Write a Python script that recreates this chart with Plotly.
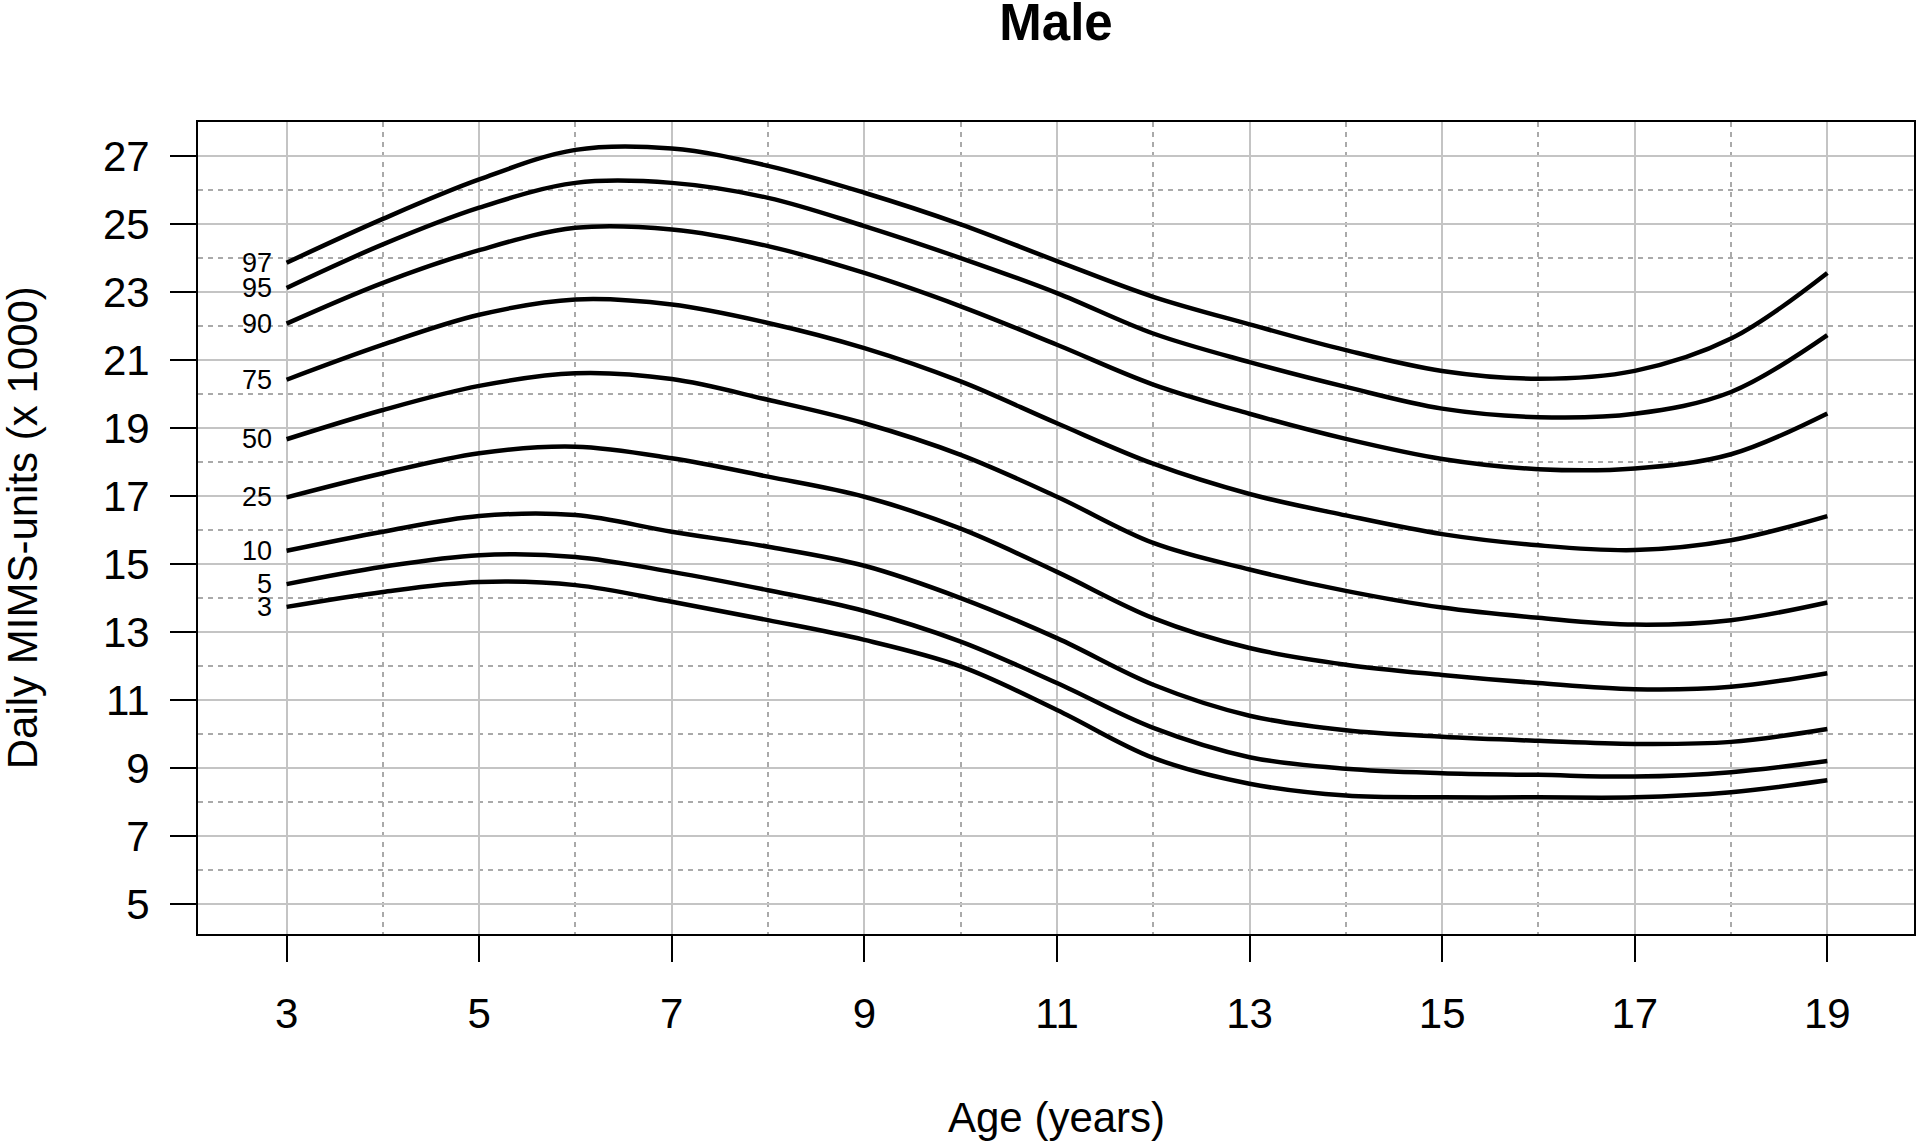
import plotly.graph_objects as go

# ---- data ----
ages = [3, 4, 5, 6, 7, 8, 9, 10, 11, 12, 13, 14, 15, 16, 17, 18, 19]
percentiles = ["97", "95", "90", "75", "50", "25", "10", "5", "3"]

p97 = [23.86, 25.15, 26.31, 27.18, 27.22, 26.71, 25.92, 24.99, 23.91, 22.86, 22.05, 21.29, 20.68, 20.45, 20.68, 21.63, 23.56]
p95 = [23.12, 24.40, 25.48, 26.21, 26.21, 25.77, 24.94, 24.00, 22.97, 21.78, 20.94, 20.21, 19.57, 19.32, 19.42, 20.06, 21.73]
p90 = [22.07, 23.27, 24.23, 24.89, 24.84, 24.35, 23.56, 22.58, 21.45, 20.28, 19.42, 18.68, 18.09, 17.79, 17.81, 18.23, 19.43]
p75 = [20.42, 21.45, 22.33, 22.78, 22.63, 22.09, 21.35, 20.37, 19.14, 17.95, 17.06, 16.43, 15.88, 15.55, 15.41, 15.70, 16.41]
p50 = [18.67, 19.53, 20.24, 20.61, 20.44, 19.83, 19.14, 18.21, 16.98, 15.62, 14.84, 14.21, 13.72, 13.42, 13.22, 13.35, 13.87]
p25 = [16.96, 17.67, 18.26, 18.45, 18.11, 17.57, 16.98, 16.04, 14.77, 13.41, 12.53, 12.04, 11.74, 11.50, 11.32, 11.39, 11.79]
p10 = [15.39, 15.95, 16.41, 16.44, 15.95, 15.51, 14.95, 14.00, 12.82, 11.45, 10.54, 10.11, 9.92, 9.80, 9.71, 9.77, 10.15]
p05 = [14.41, 14.92, 15.26, 15.21, 14.77, 14.23, 13.62, 12.72, 11.50, 10.18, 9.32, 8.98, 8.85, 8.80, 8.75, 8.88, 9.21]
p03 = [13.74, 14.18, 14.47, 14.38, 13.89, 13.35, 12.77, 11.99, 10.71, 9.30, 8.54, 8.19, 8.14, 8.14, 8.14, 8.29, 8.64]

series = [p97, p95, p90, p75, p50, p25, p10, p05, p03]

x_ticks = [3, 5, 7, 9, 11, 13, 15, 17, 19]
y_ticks = [5, 7, 9, 11, 13, 15, 17, 19, 21, 23, 25, 27]

FONT = "Liberation Sans, Arial, Helvetica, sans-serif"

fig = go.Figure()
for name, vals in zip(percentiles, series):
    fig.add_trace(go.Scatter(
        x=ages, y=vals, mode="lines", name=name,
        line=dict(color="black", width=4.5, shape="spline", smoothing=1.0),
        showlegend=False, hoverinfo="skip",
    ))
    fig.add_annotation(
        x=2.86, y=vals[0], xref="x", yref="y", text=name, showarrow=False,
        xanchor="right", yanchor="middle", borderpad=0,
        font=dict(family=FONT, size=27, color="black"),
    )

axis_common = dict(
    showline=True, linecolor="black", linewidth=2, mirror=True,
    ticks="outside", ticklen=26, tickwidth=2, tickcolor="black",
    showgrid=True, gridcolor="#c4c4c4", gridwidth=2,
    zeroline=False,
    tickfont=dict(family=FONT, size=42, color="black"),
)

fig.update_xaxes(
    range=[2.08, 19.90], tickmode="array", tickvals=x_ticks,
    ticktext=[str(v) for v in x_ticks], ticklabelstandoff=16,
    minor=dict(tickmode="linear", tick0=4, dtick=2, showgrid=True,
               gridcolor="#aaaaaa", gridwidth=2, griddash="5px,5px", ticks=""),
    **axis_common,
)
fig.update_yaxes(
    range=[4.12, 28.0], tickmode="array", tickvals=y_ticks,
    ticktext=[str(v) for v in y_ticks], ticklabelstandoff=12,
    minor=dict(tickmode="linear", tick0=6, dtick=2, showgrid=True,
               gridcolor="#aaaaaa", gridwidth=2, griddash="5px,5px", ticks=""),
    **axis_common,
)

fig.add_annotation(
    x=0.5, y=-0.2254, xref="paper", yref="paper", text="Age (years)",
    showarrow=False, xanchor="center", yanchor="middle",
    font=dict(family=FONT, size=42, color="black"),
)
fig.add_annotation(
    x=-0.1024, y=0.5, xref="paper", yref="paper", text="Daily MIMS-units (x 1000)",
    showarrow=False, textangle=-90, xanchor="center", yanchor="middle",
    font=dict(family=FONT, size=42, color="black"),
)

fig.update_layout(
    width=1920, height=1142,
    margin=dict(l=198, r=4, t=122, b=208),
    paper_bgcolor="white", plot_bgcolor="white",
    title=dict(text="<b>Male</b>", x=0.5, xref="paper", y=0.996, yref="container",
               yanchor="top", font=dict(family=FONT, size=51, color="black")),
)

fig.write_html(
    "out.html",
    config={"displayModeBar": False},
    post_script="document.body.style.margin='0';document.body.style.overflow='hidden';",
)
